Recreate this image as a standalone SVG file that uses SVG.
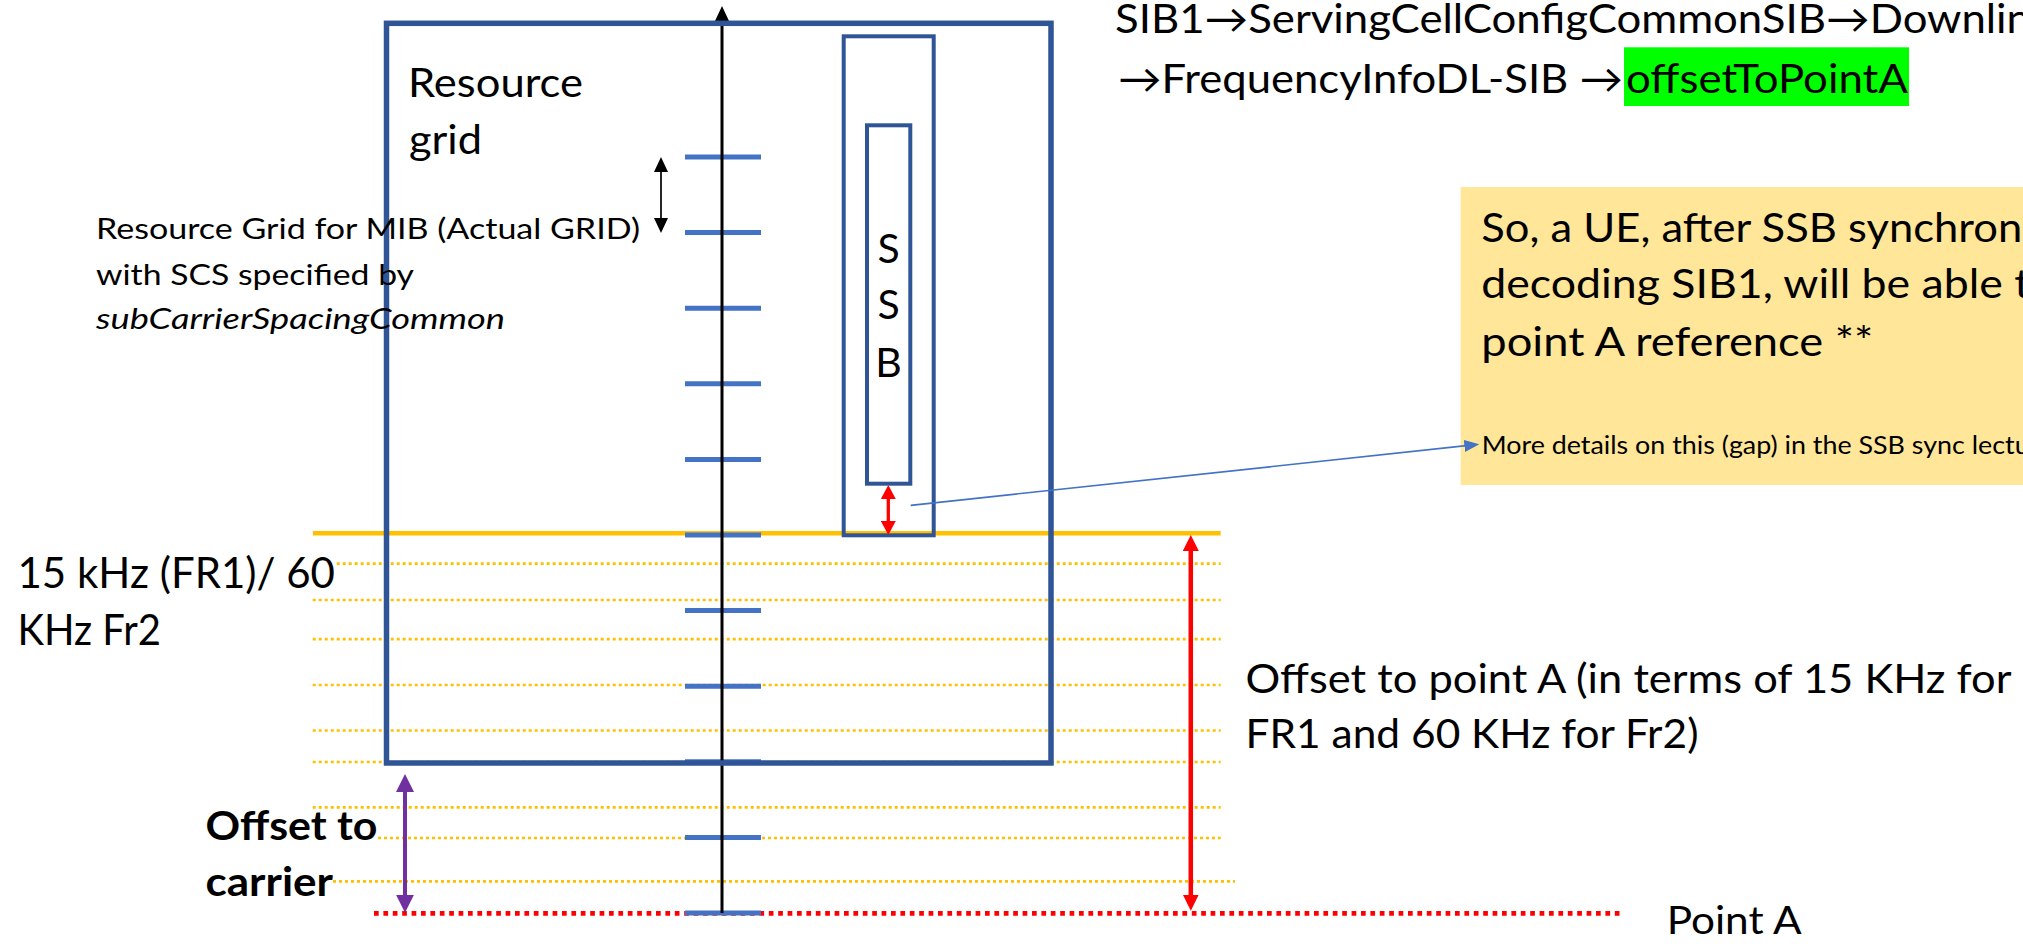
<svg xmlns="http://www.w3.org/2000/svg" width="2023" height="944" viewBox="0 0 2023 944">
  <style>
    .t { font-family: Lato, "Liberation Sans", "DejaVu Sans", sans-serif; fill: #000; }
    .big { font-size: 40px; }
    .mid { font-size: 29px; }
    .bold { font-weight: bold; }
    .ital { font-style: italic; }
    .frame { fill: none; stroke: #2F5597; }
    .tick { stroke: #4472C4; stroke-width: 5; }
    .dotted { stroke: #FFC000; stroke-width: 2.7; stroke-dasharray: 3 3; fill: none; }
  </style>
  <defs>
    <marker id="ah-black" viewBox="0 0 15 14" markerWidth="15" markerHeight="14" refX="2" refY="7" orient="auto-start-reverse" markerUnits="userSpaceOnUse">
      <path d="M0,0 L15,7 L0,14 z" fill="#000"/>
    </marker>
    <marker id="ah-red" viewBox="0 0 16 16" markerWidth="16" markerHeight="16" refX="2" refY="8" orient="auto-start-reverse" markerUnits="userSpaceOnUse">
      <path d="M0,0 L16,8 L0,16 z" fill="#FF0000"/>
    </marker>
    <marker id="ah-red-s" viewBox="0 0 14 15" markerWidth="14" markerHeight="15" refX="2" refY="7.5" orient="auto-start-reverse" markerUnits="userSpaceOnUse">
      <path d="M0,0 L14,7.5 L0,15 z" fill="#FF0000"/>
    </marker>
    <marker id="ah-purple" viewBox="0 0 18 18" markerWidth="18" markerHeight="18" refX="2" refY="9" orient="auto-start-reverse" markerUnits="userSpaceOnUse">
      <path d="M0,0 L18,9 L0,18 z" fill="#7030A0"/>
    </marker>
    <marker id="ah-blue" viewBox="0 0 15 12" markerWidth="15" markerHeight="12" refX="2" refY="6" orient="auto" markerUnits="userSpaceOnUse">
      <path d="M0,0 L15,6 L0,12 z" fill="#4472C4"/>
    </marker>
  </defs>

  <!-- subcarrier reference lines -->
  <g id="frequency-lines">
    <line x1="312.9" y1="533.3" x2="1220.7" y2="533.3" stroke="#FFC000" stroke-width="4.5"/>
    <line class="dotted" x1="336.7" y1="563.7" x2="1220.7" y2="563.7"/>
    <line class="dotted" x1="312.7" y1="600" x2="1220.7" y2="600"/>
    <line class="dotted" x1="312.7" y1="639.2" x2="1220.7" y2="639.2"/>
    <line class="dotted" x1="312.7" y1="685" x2="1220.7" y2="685"/>
    <line class="dotted" x1="312.7" y1="730.5" x2="1220.7" y2="730.5"/>
    <line class="dotted" x1="312.7" y1="762" x2="1220.7" y2="762"/>
    <line class="dotted" x1="312.7" y1="807.3" x2="1220.7" y2="807.3"/>
    <line class="dotted" x1="378" y1="838" x2="1220.7" y2="838"/>
    <line class="dotted" x1="333" y1="881.3" x2="1235" y2="881.3"/>
    <line id="point-a-line" x1="374" y1="913.3" x2="1621" y2="913.3" stroke="#FF0000" stroke-width="4.7" stroke-dasharray="4.7 4.7"/>
  </g>

  <!-- ticks on the frequency axis -->
  <g id="ticks">
    <line class="tick" x1="685" y1="157" x2="761" y2="157"/>
    <line class="tick" x1="685" y1="232.6" x2="761" y2="232.6"/>
    <line class="tick" x1="685" y1="308.2" x2="761" y2="308.2"/>
    <line class="tick" x1="685" y1="383.8" x2="761" y2="383.8"/>
    <line class="tick" x1="685" y1="459.4" x2="761" y2="459.4"/>
    <line class="tick" x1="685" y1="535" x2="761" y2="535"/>
    <line class="tick" x1="685" y1="610.6" x2="761" y2="610.6"/>
    <line class="tick" x1="685" y1="686.2" x2="761" y2="686.2"/>
    <line class="tick" x1="685" y1="761.8" x2="761" y2="761.8"/>
    <line class="tick" x1="685" y1="837.4" x2="761" y2="837.4"/>
    <line class="tick" x1="685" y1="913" x2="761" y2="913"/>
  </g>

  <g id="axis">
    <line x1="722" y1="19" x2="722" y2="913" stroke="#000" stroke-width="3" marker-start="url(#ah-black)"/>
  </g>

  <g id="resource-grid">
    <rect class="frame" x="386.5" y="23.3" width="664.5" height="739.7" stroke-width="5.5"/>
    <text class="t big" x="408" y="97" textLength="175" lengthAdjust="spacingAndGlyphs">Resource</text>
    <text class="t big" x="409" y="153.6" textLength="73" lengthAdjust="spacingAndGlyphs">grid</text>
  </g>

  <g id="ssb">
    <rect class="frame" x="843.7" y="36.3" width="90" height="499" stroke-width="4"/>
    <rect class="frame" x="867" y="125.3" width="43.3" height="358.4" stroke-width="4"/>
    <text class="t" font-size="41" x="888.5" y="262.5" text-anchor="middle">S</text>
    <text class="t" font-size="41" x="888.5" y="319" text-anchor="middle">S</text>
    <text class="t" font-size="41" x="888.5" y="376.8" text-anchor="middle">B</text>
  </g>

  <g id="mib-grid-label">
    <text class="t mid" x="96" y="238.6" textLength="544" lengthAdjust="spacingAndGlyphs">Resource Grid for MIB (Actual GRID)</text>
    <text class="t mid" x="96" y="284.6" textLength="318" lengthAdjust="spacingAndGlyphs">with SCS specified by</text>
    <text class="t mid ital" x="96" y="328.6" textLength="409" lengthAdjust="spacingAndGlyphs">subCarrierSpacingCommon</text>
  </g>

  <g id="sib1-path">
    <text class="t big" x="1115" y="33" textLength="916" lengthAdjust="spacingAndGlyphs">SIB1→ServingCellConfigCommonSIB→Downlin</text>
    <text class="t big" x="1118" y="92.7" textLength="505" lengthAdjust="spacingAndGlyphs">→FrequencyInfoDL-SIB →</text>
    <rect x="1624" y="47.3" width="285" height="58.7" fill="#00FF00"/>
    <text class="t big" x="1626" y="92.7" textLength="282" lengthAdjust="spacingAndGlyphs">offsetToPointA</text>
  </g>

  <g id="note">
    <rect x="1460.7" y="187" width="600" height="298" fill="#FFE699"/>
    <text class="t" font-size="41" x="1481.3" y="242" textLength="541" lengthAdjust="spacingAndGlyphs">So, a UE, after SSB synchron</text>
    <text class="t" font-size="41" x="1481.3" y="297.5" textLength="549" lengthAdjust="spacingAndGlyphs">decoding SIB1, will be able t</text>
    <text class="t" font-size="41" x="1481.3" y="355.5" textLength="392" lengthAdjust="spacingAndGlyphs">point A reference **</text>
    <text class="t" font-size="25" x="1481.7" y="454" textLength="548" lengthAdjust="spacingAndGlyphs">More details on this (gap) in the SSB sync lectu</text>
  </g>

  <g id="scs-label">
    <text class="t" font-size="42" x="17.5" y="588.3" textLength="317.5" lengthAdjust="spacingAndGlyphs">15 kHz (FR1)/ 60</text>
    <text class="t" font-size="42" x="17.5" y="645" textLength="143.5" lengthAdjust="spacingAndGlyphs">KHz Fr2</text>
  </g>

  <g id="offset-carrier-label">
    <text class="t big bold" x="205.5" y="840" textLength="172" lengthAdjust="spacingAndGlyphs">Offset to</text>
    <text class="t big bold" x="205.5" y="896" textLength="127.5" lengthAdjust="spacingAndGlyphs">carrier</text>
  </g>

  <g id="offset-pointa-label">
    <text class="t" font-size="41" x="1245.5" y="692.7" textLength="766" lengthAdjust="spacingAndGlyphs">Offset to point A (in terms of 15 KHz for</text>
    <text class="t" font-size="41" x="1245.5" y="748.3" textLength="453" lengthAdjust="spacingAndGlyphs">FR1 and 60 KHz for Fr2)</text>
  </g>

  <g id="point-a-label">
    <text class="t" font-size="38" x="1666.7" y="934.3" textLength="135" lengthAdjust="spacingAndGlyphs">Point A</text>
  </g>

  <!-- dimension arrows and the callout leader -->
  <g id="connectors">
    <line x1="661" y1="170" x2="661" y2="220" stroke="#000" stroke-width="1.7" marker-start="url(#ah-black)" marker-end="url(#ah-black)"/>
    <line x1="888.3" y1="497" x2="888.3" y2="523" stroke="#FF0000" stroke-width="3.3" marker-start="url(#ah-red-s)" marker-end="url(#ah-red-s)"/>
    <line x1="1190.8" y1="549" x2="1190.8" y2="896.7" stroke="#FF0000" stroke-width="4.5" marker-start="url(#ah-red)" marker-end="url(#ah-red)"/>
    <line x1="405" y1="790" x2="405" y2="896.7" stroke="#7030A0" stroke-width="4" marker-start="url(#ah-purple)" marker-end="url(#ah-purple)"/>
    <line x1="910.7" y1="505.3" x2="1466.4" y2="445.7" stroke="#4472C4" stroke-width="1.7" marker-end="url(#ah-blue)"/>
  </g>
</svg>
